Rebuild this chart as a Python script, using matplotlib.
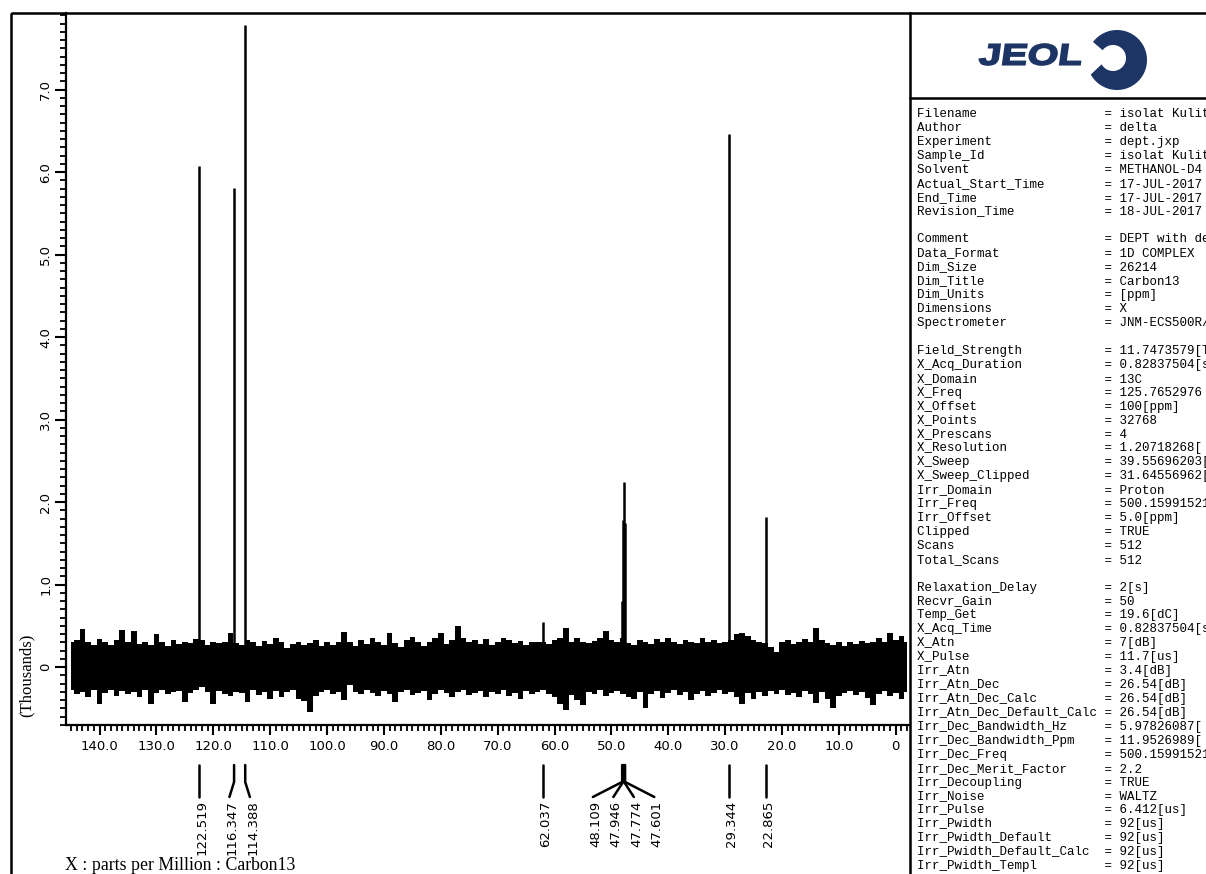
"""
plot.py

Recreation of a JEOL 13C DEPT spectrum printout with its parameter panel.
"""
import numpy as np
import matplotlib
matplotlib.use("Agg")
import matplotlib.pyplot as plt
import matplotlib.transforms as mtransforms
from matplotlib.ticker import MultipleLocator, FuncFormatter
from matplotlib.path import Path
from matplotlib.patches import PathPatch, Rectangle
from matplotlib.textpath import TextPath
from matplotlib.font_manager import FontProperties
from matplotlib.lines import Line2D

# Data

peak_ppm = [122.519, 116.347, 114.388, 62.037, 48.109, 47.946, 47.774, 47.601, 29.344, 22.865]
peak_height = [6.07, 5.81, 7.78, 0.55, 0.80, 1.78, 2.24, 1.75, 6.46, 1.82]   # thousands

# baseline noise envelope, sampled every 1 ppm
noise_ppm = [145, 144, 143, 142, 141, 140, 139, 138, 137, 136, 135, 134, 133, 132, 131, 130,
             129, 128, 127, 126, 125, 124, 123, 122, 121, 120, 119, 118, 117, 116, 115, 114,
             113, 112, 111, 110, 109, 108, 107, 106, 105, 104, 103, 102, 101, 100, 99, 98,
             97, 96, 95, 94, 93, 92, 91, 90, 89, 88, 87, 86, 85, 84, 83, 82, 81, 80, 79, 78,
             77, 76, 75, 74, 73, 72, 71, 70, 69, 68, 67, 66, 65, 64, 63, 62, 61, 60, 59, 58,
             57, 56, 55, 54, 53, 52, 51, 50, 49, 48, 47, 46, 45, 44, 43, 42, 41, 40, 39, 38,
             37, 36, 35, 34, 33, 32, 31, 30, 29, 28, 27, 26, 25, 24, 23, 22, 21, 20, 19, 18,
             17, 16, 15, 14, 13, 12, 11, 10, 9, 8, 7, 6, 5, 4, 3, 2, 1, 0, -1, -2]
noise_high = [0.30, 0.33, 0.46, 0.30, 0.27, 0.34, 0.30, 0.27, 0.33, 0.45, 0.31, 0.44, 0.28, 0.31, 0.27, 0.40,
              0.30, 0.26, 0.33, 0.28, 0.31, 0.29, 0.34, 0.33, 0.27, 0.30, 0.29, 0.31, 0.41, 0.29, 0.27, 0.33,
              0.30, 0.26, 0.32, 0.28, 0.35, 0.30, 0.23, 0.28, 0.31, 0.27, 0.29, 0.33, 0.26, 0.30, 0.27, 0.31,
              0.43, 0.30, 0.26, 0.33, 0.28, 0.35, 0.30, 0.27, 0.42, 0.29, 0.24, 0.33, 0.37, 0.30, 0.26, 0.31,
              0.35, 0.42, 0.28, 0.33, 0.50, 0.36, 0.30, 0.33, 0.28, 0.34, 0.27, 0.30, 0.35, 0.33, 0.29, 0.32,
              0.27, 0.31, 0.30, 0.30, 0.28, 0.33, 0.36, 0.48, 0.31, 0.35, 0.30, 0.29, 0.32, 0.36, 0.44, 0.33,
              0.30, 0.36, 0.29, 0.27, 0.33, 0.31, 0.28, 0.34, 0.30, 0.36, 0.31, 0.28, 0.33, 0.30, 0.29, 0.35,
              0.30, 0.33, 0.29, 0.31, 0.33, 0.40, 0.41, 0.38, 0.33, 0.31, 0.29, 0.25, 0.18, 0.30, 0.33, 0.28,
              0.31, 0.34, 0.30, 0.47, 0.33, 0.29, 0.27, 0.31, 0.26, 0.30, 0.28, 0.32, 0.29, 0.31, 0.35, 0.30,
              0.42, 0.33, 0.38, 0.31]
noise_low = [-0.27, -0.33, -0.30, -0.36, -0.28, -0.45, -0.31, -0.27, -0.35, -0.29, -0.32, -0.30, -0.36, -0.28, -0.44, -0.31,
             -0.27, -0.33, -0.30, -0.29, -0.42, -0.31, -0.27, -0.24, -0.30, -0.44, -0.29, -0.33, -0.35, -0.30, -0.31, -0.42,
             -0.28, -0.34, -0.30, -0.38, -0.29, -0.36, -0.30, -0.28, -0.38, -0.41, -0.54, -0.35, -0.30, -0.27, -0.33, -0.30,
             -0.40, -0.22, -0.30, -0.33, -0.28, -0.31, -0.35, -0.29, -0.33, -0.42, -0.30, -0.27, -0.34, -0.31, -0.29, -0.40,
             -0.33, -0.28, -0.31, -0.36, -0.30, -0.27, -0.34, -0.31, -0.29, -0.36, -0.30, -0.33, -0.28, -0.35, -0.31, -0.38,
             -0.29, -0.33, -0.30, -0.27, -0.32, -0.36, -0.45, -0.52, -0.34, -0.40, -0.46, -0.30, -0.33, -0.28, -0.35, -0.31,
             -0.29, -0.33, -0.36, -0.38, -0.30, -0.49, -0.32, -0.29, -0.37, -0.31, -0.28, -0.34, -0.30, -0.40, -0.33, -0.29,
             -0.35, -0.31, -0.28, -0.33, -0.30, -0.36, -0.44, -0.31, -0.38, -0.30, -0.35, -0.29, -0.32, -0.28, -0.34, -0.31,
             -0.36, -0.29, -0.33, -0.43, -0.30, -0.38, -0.50, -0.35, -0.31, -0.29, -0.34, -0.30, -0.37, -0.46, -0.32, -0.29,
             -0.35, -0.31, -0.38, -0.30]

param_keys = [
    "Filename", "Author", "Experiment", "Sample_Id", "Solvent", "Actual_Start_Time",
    "End_Time", "Revision_Time", "",
    "Comment", "Data_Format", "Dim_Size", "Dim_Title", "Dim_Units", "Dimensions",
    "Spectrometer", "",
    "Field_Strength", "X_Acq_Duration", "X_Domain", "X_Freq", "X_Offset", "X_Points",
    "X_Prescans", "X_Resolution", "X_Sweep", "X_Sweep_Clipped", "Irr_Domain", "Irr_Freq",
    "Irr_Offset", "Clipped", "Scans", "Total_Scans", "",
    "Relaxation_Delay", "Recvr_Gain", "Temp_Get", "X_Acq_Time", "X_Atn", "X_Pulse",
    "Irr_Atn", "Irr_Atn_Dec", "Irr_Atn_Dec_Calc", "Irr_Atn_Dec_Default_Calc",
    "Irr_Dec_Bandwidth_Hz", "Irr_Dec_Bandwidth_Ppm", "Irr_Dec_Freq", "Irr_Dec_Merit_Factor",
    "Irr_Decoupling", "Irr_Noise", "Irr_Pulse", "Irr_Pwidth", "Irr_Pwidth_Default",
    "Irr_Pwidth_Default_Calc", "Irr_Pwidth_Templ",
]
# values as far as the printout shows them (the page cuts them at its right edge)
param_values = [
    "isolat Kulit", "delta", "dept.jxp", "isolat Kulit", "METHANOL-D4",
    "17-JUL-2017", "17-JUL-2017", "18-JUL-2017", "",
    "DEPT with de", "1D COMPLEX", "26214", "Carbon13", "[ppm]", "X",
    "JNM-ECS500R/", "",
    "11.7473579[T", "0.82837504[s", "13C", "125.7652976", "100[ppm]", "32768",
    "4", "1.20718268[", "39.55696203[", "31.64556962[", "Proton",
    "500.15991521", "5.0[ppm]", "TRUE", "512", "512", "",
    "2[s]", "50", "19.6[dC]", "0.82837504[s", "7[dB]", "11.7[us]",
    "3.4[dB]", "26.54[dB]", "26.54[dB]", "26.54[dB]",
    "5.97826087[", "11.9526989[", "500.15991521", "2.2",
    "TRUE", "WALTZ", "6.412[us]", "92[us]", "92[us]", "92[us]", "92[us]",
]

# Layout

W, H = 1206, 874
LABEL_GAP = 3.6          # ppm between neighbouring peak labels
LOGO_BLUE = "#1c3565"


def label_positions(peaks, gap):
    """Spread labels of close peaks so they do not overlap."""
    groups = []
    for p in peaks:
        if groups and groups[-1][-1] - p < gap:
            groups[-1].append(p)
        else:
            groups.append([p])
    out = []
    for g in groups:
        c = np.mean(g)
        n = len(g)
        out += [c + ((n - 1) / 2 - k) * gap for k in range(n)]
    return out


def fmt_tick(v, pos):
    return "0" if abs(v) < 1e-9 else f"{v:.1f}"


fig = plt.figure(figsize=(W / 100, H / 100), dpi=100)
# image pixel coordinates (origin top-left)
px = mtransforms.Affine2D().scale(1 / W, -1 / H).translate(0, 1) + fig.transFigure

ax = fig.add_axes([66 / W, 1 - 725 / H, (910 - 66) / W, (725 - 13) / H])

# spectrum
ax.fill_between(noise_ppm, noise_low, noise_high, step="mid", color="black", lw=0)
ax.vlines(peak_ppm, 0, peak_height, color="black", lw=1.8)

ax.set_xlim(145.9, -2.5)
ax.set_ylim(-0.70, 7.93)

for side in ["top", "right"]:
    ax.spines[side].set_visible(False)
for side in ["left", "bottom"]:
    ax.spines[side].set_linewidth(1.6)

ax.xaxis.set_major_locator(MultipleLocator(10))
ax.xaxis.set_minor_locator(MultipleLocator(1))
ax.yaxis.set_major_locator(MultipleLocator(1))
ax.yaxis.set_minor_locator(MultipleLocator(0.1))
ax.xaxis.set_major_formatter(FuncFormatter(fmt_tick))
ax.yaxis.set_major_formatter(FuncFormatter(fmt_tick))

ax.tick_params(axis="x", which="major", length=7, width=1.5, pad=4, labelsize=9.5)
ax.tick_params(axis="x", which="minor", length=4, width=1.3)
ax.tick_params(axis="y", which="major", length=8, width=1.5, pad=2, labelsize=9.5,
               labelrotation=90)
ax.tick_params(axis="y", which="minor", length=4.5, width=1.3)
for lbl in ax.get_yticklabels():
    lbl.set_va("center")

# peak labels below the axis
trans = mtransforms.blended_transform_factory(ax.transData, ax.transAxes)
text_shift = mtransforms.ScaledTranslation(3 / 100, 0, fig.dpi_scale_trans)
y_start, y_bend, y_end, y_text = -0.0562, -0.0800, -0.1011, -0.1060
for p, lx in zip(peak_ppm, label_positions(peak_ppm, LABEL_GAP)):
    ax.plot([p, p, lx], [y_start, y_bend, y_end], color="black", lw=1.8,
            transform=trans, clip_on=False, solid_capstyle="round",
            solid_joinstyle="round")
    ax.text(lx, y_text, f"{p:.3f}", rotation=90, ha="center", va="top",
            fontsize=9.5, transform=trans + text_shift, clip_on=False)

fig.text(27, 675, "(Thousands)", rotation=90, ha="center", va="center",
         family="Liberation Serif", fontsize=12, transform=px)
fig.text(65, 865, "X : parts per Million : Carbon13", ha="left", va="center",
         family="Liberation Serif", fontsize=12.8, transform=px)

# page frame and panel lines
fig.add_artist(Rectangle((11, 13), 1400, 1000, fill=False, lw=1.8,
                         edgecolor="black", transform=px, clip_on=False))
fig.add_artist(Line2D([910, 910], [13, 880], color="black", lw=1.8, transform=px))
fig.add_artist(Line2D([910, 1210], [98, 98], color="black", lw=1.8, transform=px))

# JEOL logo: lettering scaled into its box, then the ring
tp = TextPath((0, 0), "JEOL", size=100,
              prop=FontProperties(family="Liberation Sans", weight="bold"))
v = tp.vertices
xmin, ymin = v.min(axis=0)
xmax, ymax = v.max(axis=0)
sx = 102 / (xmax - xmin)
sy = 21 / (ymax - ymin)
skew = np.tan(np.radians(8))
lx = 978 + (v[:, 0] - xmin) * sx + (v[:, 1] - ymin) * sy * skew
ly = 65 - (v[:, 1] - ymin) * sy
fig.add_artist(PathPatch(Path(np.column_stack([lx, ly]), tp.codes),
                         facecolor=LOGO_BLUE, edgecolor=LOGO_BLUE, lw=1.2,
                         transform=px))

cx, cy, r_out = 1117, 60, 30
icx, icy, r_in = 1113, 58, 13
t_out = np.radians(np.linspace(209, 503, 90))
t_in = t_out[::-1]
ring = np.vstack([
    np.column_stack([cx + r_out * np.cos(t_out), cy - r_out * np.sin(t_out)]),
    np.column_stack([icx + r_in * np.cos(t_in), icy - r_in * np.sin(t_in)]),
])
fig.add_artist(PathPatch(Path(np.vstack([ring, ring[:1]]), closed=True),
                         facecolor=LOGO_BLUE, lw=0, transform=px))

# parameter listing
row_y0, row_step = 114, 13.93
for i, (k, val) in enumerate(zip(param_keys, param_values)):
    if not k:
        continue
    fig.text(917, row_y0 + i * row_step, f"{k:<24} = {val}", ha="left", va="center",
             family="Liberation Mono", fontsize=9, transform=px)

fig.savefig("out.png", dpi=100)
